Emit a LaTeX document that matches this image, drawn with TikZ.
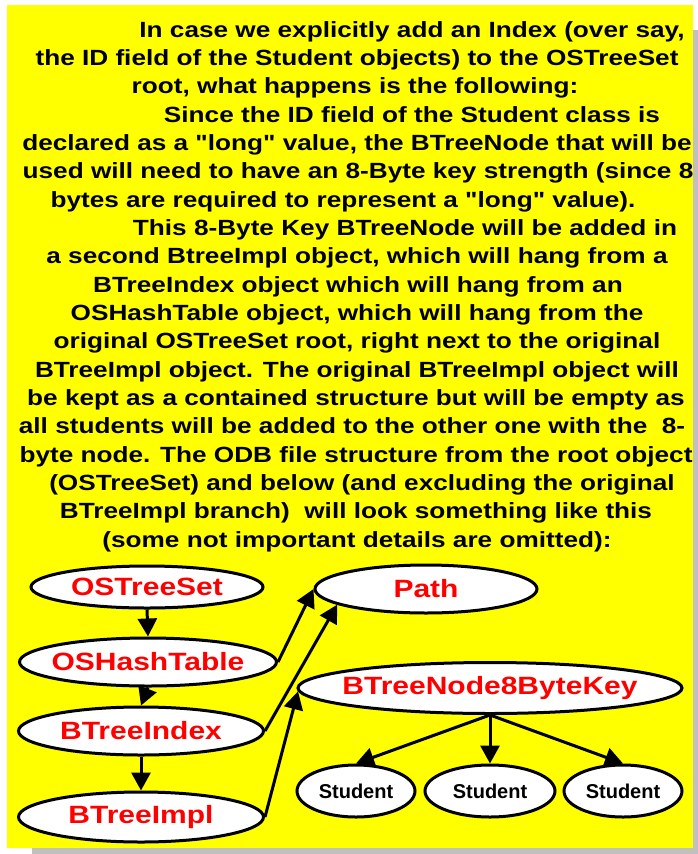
\documentclass[tikz,border=0pt]{standalone}
\usepackage{fontspec}
\usetikzlibrary{shapes.geometric,arrows.meta}
\newfontfamily\bodyfont{Liberation Sans}[FakeStretch=1.19]
\newfontfamily\labelfont{Liberation Sans}[FakeStretch=1.2]
\newfontfamily\smallfont{Liberation Sans}
\definecolor{panel}{RGB}{255,255,0}
\definecolor{shadowgray}{RGB}{192,192,192}
\definecolor{labelred}{RGB}{255,0,0}
% zero-width label box, so the ellipse keeps its given size
\newcommand{\objtext}[1]{\makebox[0pt]{#1}}
\tikzset{
  bodyline/.style={anchor=base, inner sep=0pt,
    font=\bodyfont\bfseries\fontsize{22}{26}\selectfont},
  obj/.style={ellipse, draw=black, line width=3pt, fill=white, inner sep=0pt,
    text=labelred, font=\labelfont\bfseries\fontsize{25}{30}\selectfont},
  leaf/.style={ellipse, draw=black, line width=3pt, fill=white, inner sep=0pt,
    text=black, font=\smallfont\bfseries\fontsize{20}{24}\selectfont},
  link/.style={line width=3pt, -{Triangle[length=18pt,width=19pt]}},
}
\begin{document}
\begin{tikzpicture}[x=1pt,y=-1pt]
\useasboundingbox (0,0) rectangle (698,854);
% panel with its drop shadow
\fill[shadowgray] (32,30) rectangle (698,854);
\fill[panel] (7,5) rectangle (693,848);

% explanatory text, one node per printed line
\node[bodyline] (l1)  at (412,37.0)  {In case we explicitly add an Index (over say,};
\node[bodyline] (l2)  at (357,65.3)  {the ID field of the Student objects) to the OSTreeSet};
\node[bodyline] (l3)  at (355,93.7)  {root, what happens is the following:};
\node[bodyline] (l4)  at (412,122.0) {Since the ID field of the Student class is};
\node[bodyline] (l5)  at (357,150.3) {declared as a "long" value, the BTreeNode that will be};
\node[bodyline] (l6)  at (358,178.7) {used will need to have an 8-Byte key strength (since 8};
\node[bodyline] (l7)  at (343,207.0) {bytes are required to represent a "long" value).};
\node[bodyline] (l8)  at (405,235.3) {This 8-Byte Key BTreeNode will be added in};
\node[bodyline] (l9)  at (357,263.7) {a second BtreeImpl object, which will hang from a};
\node[bodyline] (l10) at (358,292.0) {BTreeIndex object which will hang from an};
\node[bodyline] (l11) at (357,320.3) {OSHashTable object, which will hang from the};
\node[bodyline] (l12) at (357,348.7) {original OSTreeSet root, right next to the original};
\node[bodyline] (l13) at (357,377.0) {BTreeImpl object. The original BTreeImpl object will};
\node[bodyline] (l14) at (356,405.3) {be kept as a contained structure but will be empty as};
\node[bodyline] (l15) at (352,433.7) {all students will be added to the other one with the\ \ 8-};
\node[bodyline] (l16) at (356,462.0) {byte node. The ODB file structure from the root object};
\node[bodyline] (l17) at (362,490.3) {(OSTreeSet) and below (and excluding the original};
\node[bodyline] (l18) at (356,518.7) {BTreeImpl branch)\ \ will look something like this};
\node[bodyline] (l19) at (357,547.0) {(some not important details are omitted):};

% object graph
\node[obj, minimum width=232pt, minimum height=42pt] (ts) at (147,587) {\objtext{OSTreeSet}};
\node[obj, minimum width=257pt, minimum height=48pt] (ht) at (148,662) {\objtext{OSHashTable}};
\node[obj, minimum width=245pt, minimum height=48pt] (bi) at (141,731) {\objtext{BTreeIndex}};
\node[obj, minimum width=245pt, minimum height=50pt] (bm) at (141,817) {\objtext{BTreeImpl}};
\node[obj, minimum width=222pt, minimum height=48pt] (pa) at (426,589) {\objtext{Path}};
\node[obj, minimum width=384pt, minimum height=51pt] (bn) at (490,688) {\objtext{BTreeNode8ByteKey}};
\node[leaf, minimum width=118pt, minimum height=52pt] (s1) at (356,791) {\objtext{Student}};
\node[leaf, minimum width=130pt, minimum height=52pt] (s2) at (490,791) {\objtext{Student}};
\node[leaf, minimum width=118pt, minimum height=52pt] (s3) at (623,791) {\objtext{Student}};

\draw[link] (ts.south) -- (ht.north);
\draw[link] (ht.south) -- (bi.north);
\draw[link] (bi.south) -- (bm.north);
\draw[link] (ht.east) -- (pa.west);
\draw[link] (bi.east) -- (pa.190);
\draw[link] (bm.east) -- (bn.181);
\draw[link] (bn.south) -- (s1.north);
\draw[link] (bn.south) -- (s2.north);
\draw[link] (bn.south) -- (s3.north);
\end{tikzpicture}
\end{document}
